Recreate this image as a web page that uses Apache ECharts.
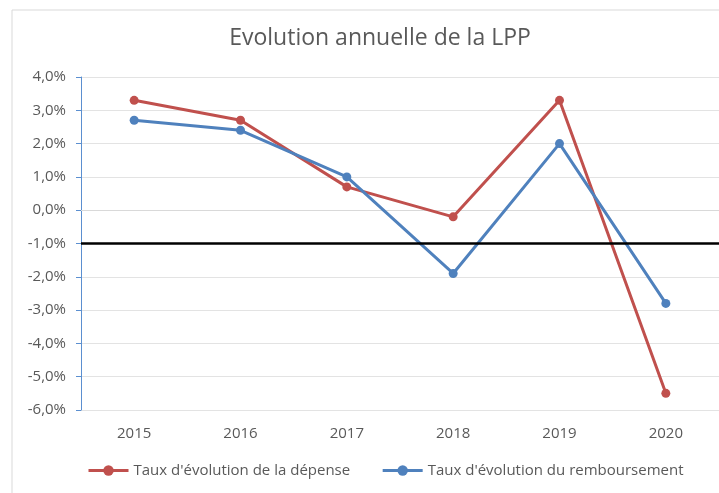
<!DOCTYPE html>
<html lang="fr">
<head>
  <meta charset="UTF-8">
  <title>Evolution annuelle de la LPP</title>
  <style>
    html, body { margin: 0; padding: 0; background: #fff; }
    #chart { width: 719px; height: 493px; }
  </style>
</head>
<body>
  <div id="chart"></div>
  <script src="https://cdn.jsdelivr.net/npm/echarts@6/dist/echarts.min.js"></script>
  <script>
    var years = ['2015', '2016', '2017', '2018', '2019', '2020'];
    var depense = [3.3, 2.7, 0.7, -0.2, 3.3, -5.5];
    var remboursement = [2.7, 2.4, 1.0, -1.9, 2.0, -2.8];
    var seuil = -1.0;

    var textColor = '#595959';
    var fontName = '"Open Sans", "DejaVu Sans", sans-serif';

    var chart = echarts.init(document.getElementById('chart'));

    var option = {
      animation: false,
      textStyle: { fontFamily: fontName },
      graphic: [{
        type: 'rect',
        shape: { x: 12, y: 10, width: 720, height: 500 },
        style: { fill: 'none', stroke: '#d9d9d9', lineWidth: 1 },
        silent: true
      }],
      title: {
        text: 'Evolution annuelle de la LPP',
        left: 375,
        textAlign: 'center',
        top: 22,
        textStyle: { fontFamily: fontName, fontSize: 23, fontWeight: 'normal', color: textColor }
      },
      legend: {
        left: 82,
        top: 458,
        itemGap: 31,
        itemWidth: 40,
        itemHeight: 13,
        lineStyle: { width: 3 },
        textStyle: { fontFamily: fontName, fontSize: 15, color: textColor },
        data: ["Taux d'évolution de la dépense", "Taux d'évolution du remboursement"]
      },
      grid: { left: 81, right: 0, top: 77, bottom: 83 },
      xAxis: {
        type: 'category',
        data: years,
        boundaryGap: true,
        axisLine: { lineStyle: { color: '#d9d9d9', width: 1 } },
        axisTick: { show: false },
        axisLabel: { color: textColor, fontSize: 15, margin: 16, fontFamily: fontName }
      },
      yAxis: {
        type: 'value',
        min: -6,
        max: 4,
        interval: 1,
        axisLine: { show: true, lineStyle: { color: '#5b8fd0', width: 1 } },
        axisTick: { show: true, length: 5, lineStyle: { color: '#5b8fd0' } },
        splitLine: { lineStyle: { color: '#e3e3e3', width: 1 } },
        axisLabel: {
          color: textColor,
          fontSize: 15,
          margin: 15,
          fontFamily: fontName,
          formatter: function (v) { return v.toFixed(1).replace('.', ',') + '%'; }
        }
      },
      series: [{
        name: "Taux d'évolution de la dépense",
        type: 'line',
        data: depense,
        symbol: 'circle',
        symbolSize: 9,
        itemStyle: { color: '#c0504d' },
        lineStyle: { color: '#c0504d', width: 3 },
        z: 3,
        markLine: {
          silent: true,
          symbol: 'none',
          label: { show: false },
          lineStyle: { color: '#000', width: 2.5, type: 'solid' },
          data: [{ yAxis: seuil }]
        }
      }, {
        name: "Taux d'évolution du remboursement",
        type: 'line',
        data: remboursement,
        symbol: 'circle',
        symbolSize: 9,
        itemStyle: { color: '#4f81bd' },
        lineStyle: { color: '#4f81bd', width: 3 },
        z: 4
      }]
    };

    chart.setOption(option);
  </script>
</body>
</html>
